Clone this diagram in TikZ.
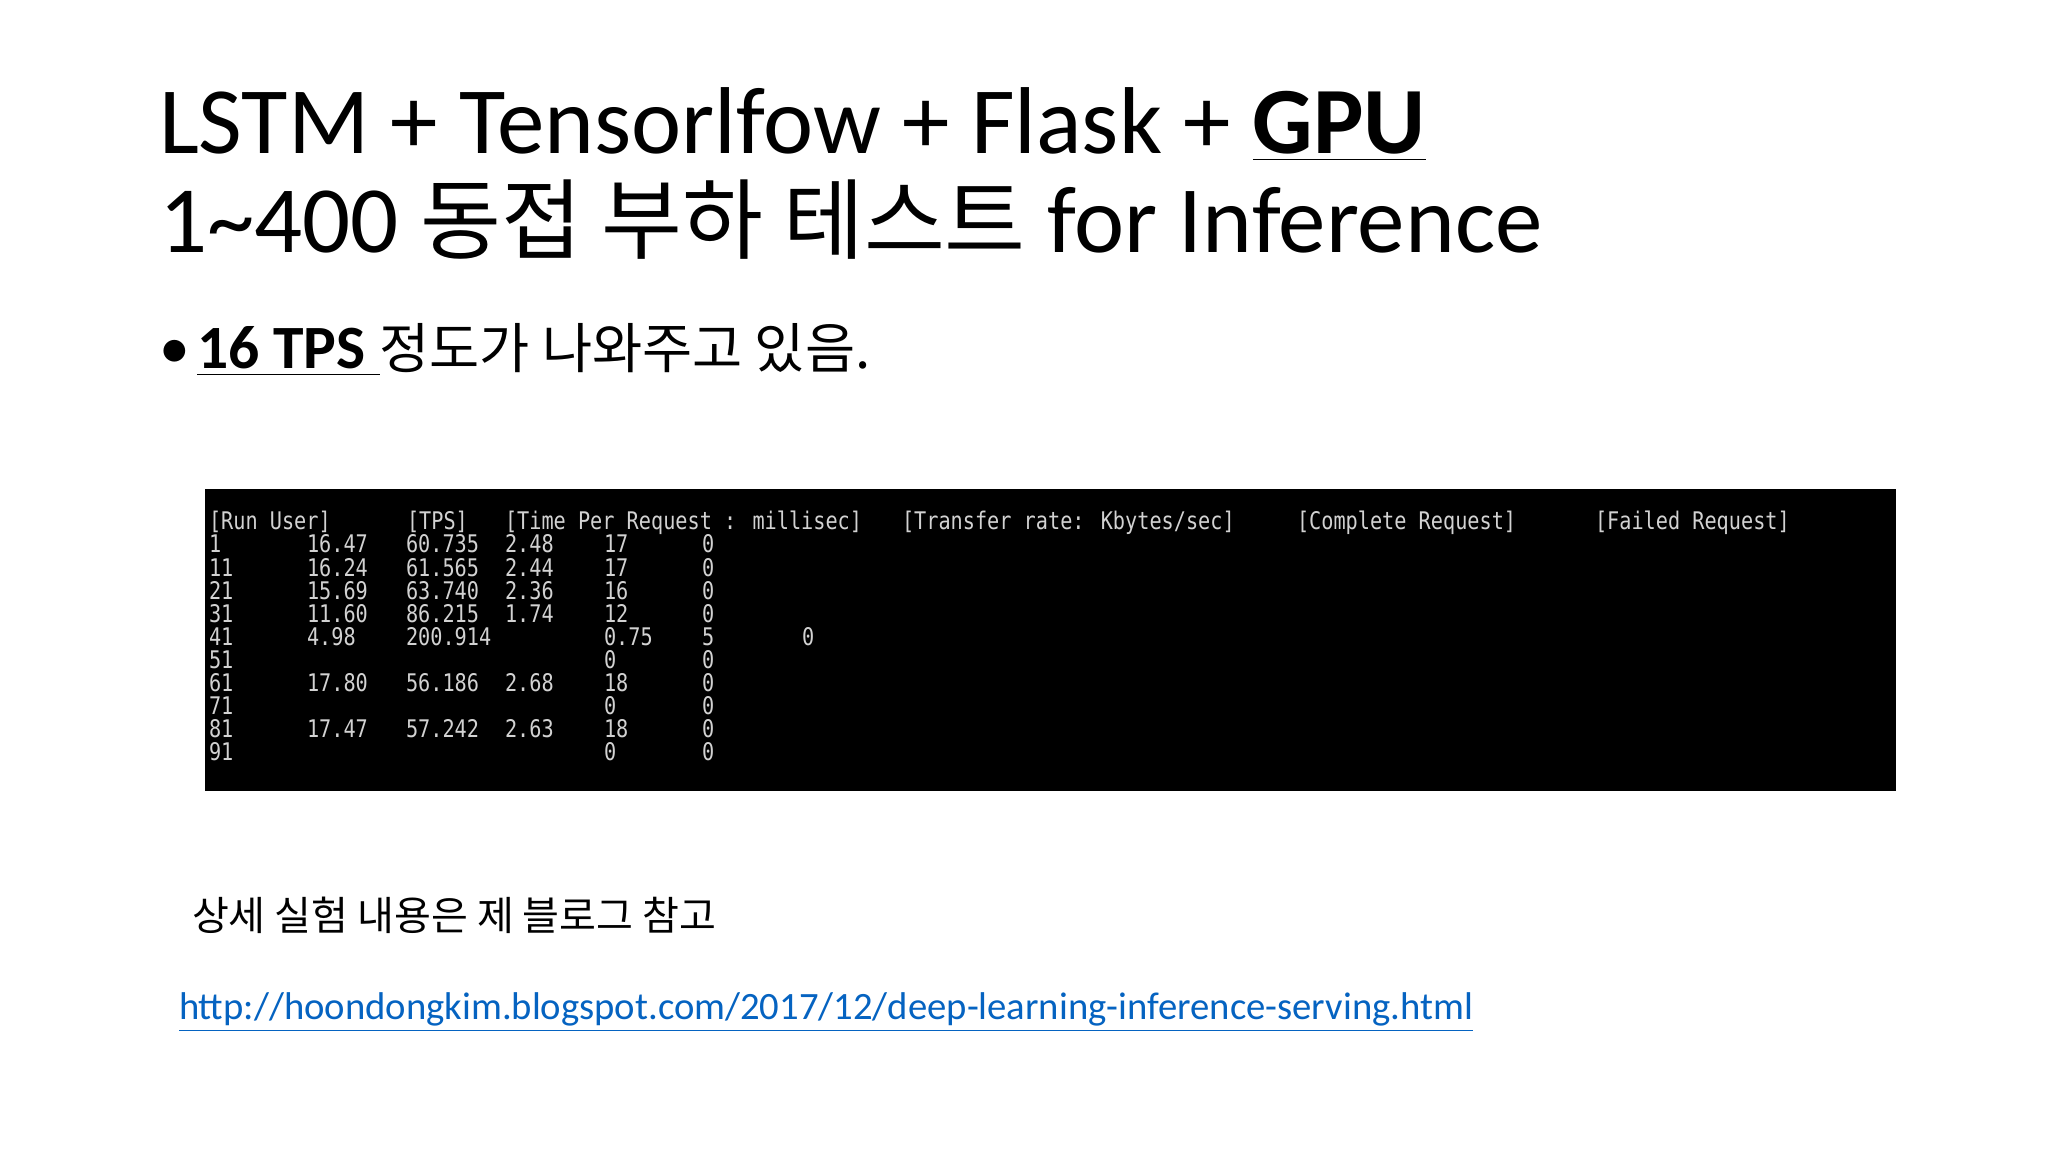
\documentclass[tikz,border=0pt]{standalone}
\usepackage{fontspec}
\setmainfont{Carlito}
\newfontfamily\kr{Noto Sans CJK KR}
\newfontfamily\term{DejaVu Sans Mono}
\definecolor{termtxt}{HTML}{D2D2D2}
\definecolor{linkblue}{HTML}{0563C1}
\tikzset{
  t/.style={anchor=base west, inner sep=0pt, outer sep=0pt},
  tm/.style={t, text=termtxt, font=\term\fontsize{5.75}{7}\selectfont, yscale=1.2},
}
\begin{document}
\begin{tikzpicture}[x=0.01cm,y=-0.01cm]
\fill[white] (0,0) rectangle (2048,1152);
\useasboundingbox (0,0) rectangle (2048,1152);
% title
\node[t, font=\fontsize{27}{32}\selectfont] (t1) at (159,154) {LSTM + Tensorlfow + Flask + \underline{\textbf{GPU}}};
\node[t, font=\fontsize{27}{32}\selectfont] (t2) at (159,253) {1\textasciitilde400 {\kr\fontsize{25}{30}\selectfont 동접 부하 테스트} for Inference};
% bullet
\node[t, font=\fontsize{17.5}{22}\selectfont] (b0) at (159,369) {•};
\node[t, font=\fontsize{17.5}{22}\selectfont] (b1) at (197,369) {\underline{\textbf{16 TPS }}{\kr\fontsize{15.5}{19}\selectfont 정도가 나와주고 있음.}};
% terminal
\fill[black] (205,489) rectangle (1896,791);
\node[tm] (h1) at (209,530) {[Run User]};
\node[tm] (h2) at (407,530) {[TPS]};
\node[tm] (h3) at (505,530) {[Time Per Request : millisec]};
\node[tm] (h4) at (902,530) {[Transfer rate: Kbytes/sec]};
\node[tm] (h5) at (1297,530) {[Complete Request]};
\node[tm] (h6) at (1595,530) {[Failed Request]};
\foreach \i/\a/\b/\c/\d/\e/\f in {
  0/1/16.47/60.735/2.48/17/0,
  1/11/16.24/61.565/2.44/17/0,
  2/21/15.69/63.740/2.36/16/0,
  3/31/11.60/86.215/1.74/12/0,
  5/51////0/0,
  6/61/17.80/56.186/2.68/18/0,
  7/71////0/0,
  8/81/17.47/57.242/2.63/18/0,
  9/91////0/0}{
  \node[tm] (r\i a) at (209,553+23.1*\i) {\a};
  \node[tm] (r\i b) at (307,553+23.1*\i) {\b};
  \node[tm] (r\i c) at (406,553+23.1*\i) {\c};
  \node[tm] (r\i d) at (505,553+23.1*\i) {\d};
  \node[tm] (r\i e) at (604,553+23.1*\i) {\e};
  \node[tm] (r\i f) at (702,553+23.1*\i) {\f};
}
\node[tm] (r4a) at (209,645.4) {41};
\node[tm] (r4b) at (307,645.4) {4.98};
\node[tm] (r4c) at (406,645.4) {200.914};
\node[tm] (r4e) at (604,645.4) {0.75};
\node[tm] (r4f) at (702,645.4) {5};
\node[tm] (r4g) at (802,645.4) {0};
% footer
\node[t, font=\kr\fontsize{11.4}{14}\selectfont] (note) at (192,930) {상세 실험 내용은 제 블로그 참고};
\node[t, font=\fontsize{11}{14}\selectfont, text=linkblue] (url) at (179,1019) {\underline{http://hoondongkim.blogspot.com/2017/12/deep-learning-inference-serving.html}};
\end{tikzpicture}
\end{document}
